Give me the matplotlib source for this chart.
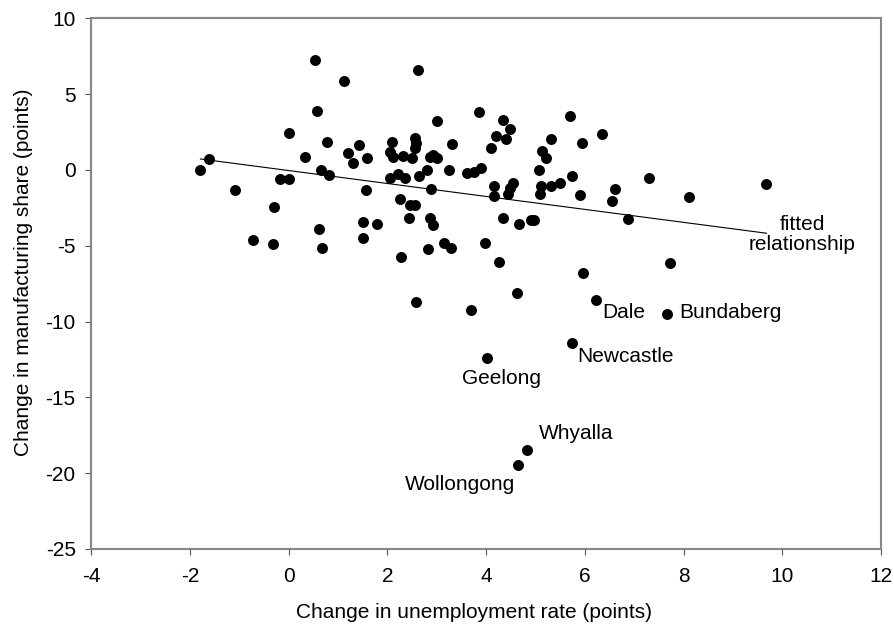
import numpy as np
import matplotlib
matplotlib.use("Agg")
import matplotlib.pyplot as plt

plt.rcParams['font.family'] = ['Liberation Sans', 'DejaVu Sans']
plt.rcParams['axes.unicode_minus'] = False

# change in unemployment rate vs change in manufacturing share, by region (points)
unemp_change = [
    -1.79, -1.61, -1.09, -0.72, -0.31, -0.30, -0.18, 0.01, 0.01, 0.33,
    0.53, 0.57, 0.61, 0.66, 0.67, 0.78, 0.82, 1.12, 1.20, 1.30,
    1.43, 1.50, 1.51, 1.58, 1.57, 1.79, 2.06, 2.09, 2.12, 2.06,
    2.22, 2.32, 2.35, 2.25, 2.27, 2.46, 2.56, 2.44, 2.50, 2.56,
    2.58, 2.55, 2.58, 2.61, 2.64, 2.80, 2.83, 2.86, 2.92, 2.89,
    2.87, 2.92, 3.00, 3.00, 3.14, 3.29, 3.31, 3.25, 3.62, 3.75,
    3.85, 3.90, 3.70, 3.97, 4.09, 4.15, 4.15, 4.19, 4.25, 4.35,
    4.40, 4.49, 4.35, 4.44, 4.49, 4.55, 4.62, 4.66, 4.90, 4.96,
    5.08, 5.10, 5.12, 5.13, 5.21, 5.32, 5.32, 5.50, 5.69, 5.74,
    5.91, 5.95, 5.96, 6.34, 6.61, 6.55, 6.88, 7.30, 7.73, 8.11,
    9.68,
]
manuf_change = [
    -0.02, 0.71, -1.30, -4.64, -4.86, -2.44, -0.57, -0.57, 2.46, 0.84,
    7.28, 3.92, -3.91, 0.02, -5.16, 1.87, -0.35, 5.89, 1.09, 0.46,
    1.62, -4.51, -3.41, 0.82, -1.30, -3.56, 1.21, 1.87, 0.86, -0.55,
    -0.26, 0.89, -0.55, -1.91, -5.72, -2.34, -2.33, -3.20, 0.77, 2.09,
    1.76, 1.43, -8.71, 6.60, -0.40, 0.00, -5.23, -3.19, -3.66, -1.27,
    0.88, 0.99, 0.77, 3.20, -4.84, -5.13, 1.70, 0.00, -0.23, -0.13,
    3.83, 0.11, -9.23, -4.80, 1.43, -1.08, -1.72, 2.24, -6.05, 3.30,
    2.03, 2.68, -3.20, -1.56, -1.21, -0.88, -8.13, -3.56, -3.32, -3.28,
    0.00, -1.58, -1.09, 1.25, 0.81, 2.06, -1.06, -0.84, 3.58, -0.40,
    -1.65, 1.80, -6.81, 2.36, -1.27, -2.06, -3.21, -0.51, -6.12, -1.76,
    -0.90,
]

# labelled towns
towns = ["Dale", "Bundaberg", "Newcastle", "Geelong", "Whyalla", "Wollongong"]
towns_unemp = [6.23, 7.66, 5.73, 4.02, 4.82, 4.65]
towns_manuf = [-8.58, -9.50, -11.39, -12.38, -18.47, -19.46]

# fitted line y = a + b*x
fit_a, fit_b = -0.04, -0.427

fig = plt.figure(figsize=(8.95, 6.28), dpi=100)
ax = fig.add_axes([0.1021, 0.1258, 0.8822, 0.8450])

x_all = np.array(unemp_change + towns_unemp)
y_all = np.array(manuf_change + towns_manuf)
ax.plot(x_all, y_all, 'o', color='black', markersize=7.9, markeredgewidth=0, zorder=3)

xf = np.array([x_all.min(), x_all.max()])
ax.plot(xf, fit_a + fit_b * xf, color='black', linewidth=0.8, zorder=2)

ax.text(10.41, -4.27, "fitted\nrelationship", ha='center', va='center',
        fontsize=15, linespacing=1.1)

# where each label sits relative to its dot (points), and alignment
offsets = {
    "Dale": ((4.1, -13.2), 'left'),
    "Bundaberg": ((9.1, -3.1), 'left'),
    "Newcastle": ((4.3, -13.7), 'left'),
    "Geelong": ((10.6, -18.9), 'center'),
    "Whyalla": ((9.1, 8.1), 'left'),
    "Wollongong": ((-1.9, -18.0), 'right'),
}
for name, xv, yv in zip(towns, towns_unemp, towns_manuf):
    off, ha = offsets[name]
    ax.annotate(name, (xv, yv), xytext=off, textcoords='offset points',
                ha=ha, va='baseline', fontsize=15)

ax.set_xlim(-4, 12)
ax.set_ylim(-25, 10)
ax.set_xticks(np.arange(-4, 13, 2))
ax.set_yticks(np.arange(-25, 11, 5))

grey = '#868686'
for s in ax.spines.values():
    s.set_color(grey)
    s.set_linewidth(1.5)
ax.tick_params(axis='both', direction='out', length=4.3, width=0.8,
               color='#555555', labelsize=15, labelcolor='black')
ax.tick_params(axis='x', pad=9)
ax.tick_params(axis='y', pad=7)

ax.set_xlabel("Change in unemployment rate (points)", fontsize=15)
ax.set_ylabel("Change in manufacturing share (points)", fontsize=15)
ax.xaxis.set_label_coords(0.484, -0.119)
ax.xaxis.label.set_va('center')
ax.yaxis.set_label_coords(-0.074, 0.522)

fig.savefig("out.png", dpi=100)
